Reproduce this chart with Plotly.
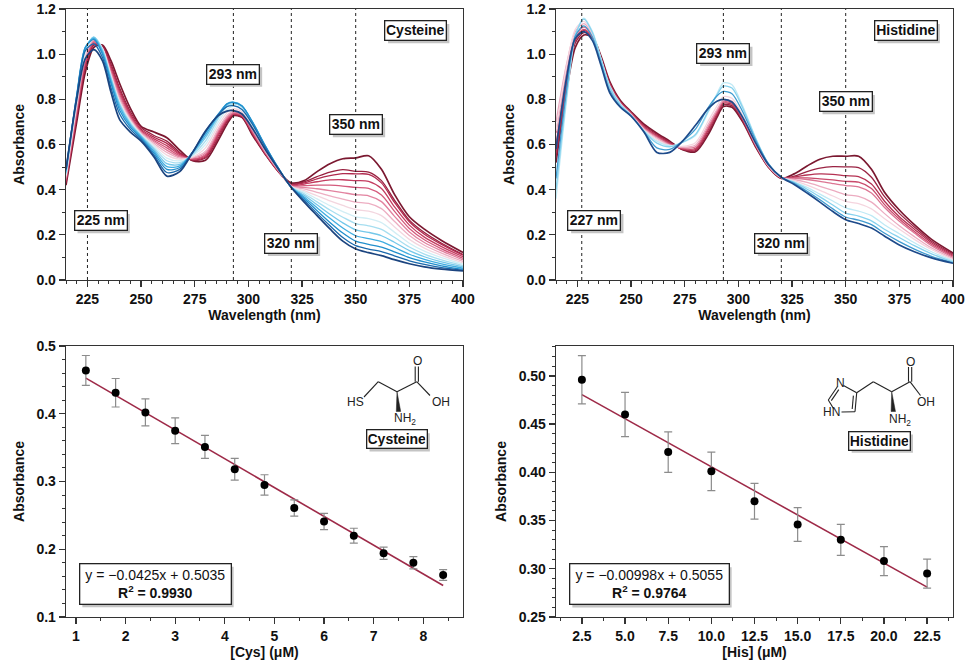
import plotly.graph_objects as go

FONT = "Liberation Sans, Arial, sans-serif"
OX, OY = 0, 0
FW, FH = 966, 668

# ---------------- data: UV-vis spectra ----------------
wavelength = [215, 220, 224, 228, 232, 236, 240, 245, 250, 256, 262, 268, 274, 280, 286, 290, 293, 297, 302, 308, 314,
              320, 326, 332, 338, 344, 350, 356, 362, 368, 375, 382, 390, 400]

cys_1 = [0.42, 0.70, 0.92, 1.03, 1.04, 0.97, 0.87, 0.76, 0.68, 0.655, 0.63, 0.575, 0.528, 0.53, 0.62, 0.69, 0.728, 0.72, 0.64, 0.555, 0.48, 0.43, 0.44, 0.48, 0.515, 0.537, 0.541, 0.55, 0.49, 0.38, 0.28, 0.225, 0.175, 0.122]
cys_2 = [0.43, 0.72, 0.94, 1.04, 1.035, 0.955, 0.85, 0.745, 0.675, 0.64, 0.615, 0.565, 0.53, 0.54, 0.63, 0.70, 0.73, 0.722, 0.645, 0.555, 0.48, 0.425, 0.435, 0.458, 0.478, 0.489, 0.481, 0.478, 0.44, 0.355, 0.265, 0.21, 0.163, 0.113]
cys_3 = [0.435, 0.73, 0.95, 1.045, 1.03, 0.945, 0.84, 0.735, 0.668, 0.632, 0.605, 0.56, 0.532, 0.545, 0.64, 0.705, 0.732, 0.725, 0.648, 0.558, 0.48, 0.422, 0.43, 0.448, 0.462, 0.471, 0.470, 0.468, 0.43, 0.345, 0.258, 0.203, 0.158, 0.110]
cys_4 = [0.44, 0.74, 0.96, 1.05, 1.025, 0.935, 0.83, 0.728, 0.662, 0.625, 0.595, 0.555, 0.535, 0.55, 0.648, 0.71, 0.735, 0.728, 0.65, 0.56, 0.482, 0.42, 0.425, 0.435, 0.443, 0.444, 0.440, 0.437, 0.405, 0.325, 0.243, 0.19, 0.148, 0.103]
cys_5 = [0.445, 0.75, 0.97, 1.055, 1.025, 0.925, 0.82, 0.722, 0.658, 0.618, 0.585, 0.55, 0.537, 0.556, 0.655, 0.715, 0.738, 0.73, 0.655, 0.562, 0.483, 0.418, 0.418, 0.42, 0.42, 0.416, 0.410, 0.406, 0.376, 0.305, 0.228, 0.178, 0.138, 0.096]
cys_6 = [0.45, 0.76, 0.98, 1.06, 1.025, 0.918, 0.81, 0.716, 0.654, 0.612, 0.575, 0.545, 0.54, 0.562, 0.662, 0.72, 0.742, 0.733, 0.66, 0.565, 0.485, 0.416, 0.41, 0.404, 0.396, 0.387, 0.378, 0.373, 0.347, 0.283, 0.213, 0.166, 0.129, 0.089]
cys_7 = [0.455, 0.77, 0.99, 1.065, 1.025, 0.91, 0.80, 0.71, 0.65, 0.605, 0.565, 0.54, 0.542, 0.57, 0.67, 0.728, 0.748, 0.738, 0.665, 0.568, 0.487, 0.415, 0.403, 0.388, 0.372, 0.358, 0.345, 0.339, 0.316, 0.26, 0.197, 0.154, 0.119, 0.082]
cys_8 = [0.46, 0.78, 1.0, 1.07, 1.025, 0.905, 0.79, 0.705, 0.646, 0.598, 0.553, 0.535, 0.545, 0.585, 0.685, 0.74, 0.758, 0.745, 0.672, 0.572, 0.488, 0.414, 0.396, 0.373, 0.35, 0.33, 0.312, 0.305, 0.285, 0.236, 0.18, 0.141, 0.109, 0.076]
cys_9 = [0.465, 0.79, 1.01, 1.075, 1.025, 0.90, 0.785, 0.70, 0.643, 0.592, 0.54, 0.528, 0.55, 0.6, 0.70, 0.755, 0.77, 0.755, 0.68, 0.578, 0.49, 0.413, 0.389, 0.359, 0.329, 0.303, 0.280, 0.272, 0.254, 0.212, 0.163, 0.128, 0.099, 0.07]
cys_10 = [0.47, 0.80, 1.02, 1.075, 1.02, 0.895, 0.78, 0.695, 0.64, 0.585, 0.528, 0.52, 0.555, 0.615, 0.715, 0.768, 0.78, 0.765, 0.69, 0.585, 0.492, 0.412, 0.382, 0.346, 0.31, 0.278, 0.250, 0.240, 0.224, 0.189, 0.146, 0.115, 0.089, 0.064]
cys_11 = [0.475, 0.81, 1.025, 1.075, 1.015, 0.89, 0.775, 0.69, 0.637, 0.578, 0.515, 0.512, 0.56, 0.63, 0.725, 0.775, 0.785, 0.77, 0.695, 0.59, 0.494, 0.411, 0.375, 0.333, 0.291, 0.253, 0.222, 0.211, 0.196, 0.167, 0.13, 0.103, 0.08, 0.058]
cys_12 = [0.48, 0.815, 1.03, 1.07, 1.01, 0.88, 0.765, 0.685, 0.633, 0.57, 0.502, 0.505, 0.565, 0.642, 0.73, 0.78, 0.788, 0.772, 0.698, 0.592, 0.495, 0.41, 0.368, 0.32, 0.273, 0.23, 0.196, 0.183, 0.17, 0.145, 0.114, 0.091, 0.071, 0.052]
cys_13 = [0.485, 0.82, 1.03, 1.065, 1.0, 0.87, 0.752, 0.677, 0.628, 0.562, 0.49, 0.498, 0.567, 0.652, 0.735, 0.78, 0.786, 0.77, 0.698, 0.592, 0.495, 0.41, 0.361, 0.307, 0.255, 0.208, 0.172, 0.158, 0.146, 0.125, 0.099, 0.08, 0.063, 0.047]
cys_14 = [0.49, 0.815, 1.015, 1.045, 0.985, 0.85, 0.735, 0.667, 0.622, 0.553, 0.476, 0.49, 0.566, 0.658, 0.733, 0.768, 0.772, 0.755, 0.688, 0.585, 0.493, 0.41, 0.353, 0.295, 0.24, 0.188, 0.152, 0.137, 0.126, 0.107, 0.085, 0.069, 0.055, 0.043]
cys_15 = [0.49, 0.80, 0.98, 1.02, 0.97, 0.83, 0.71, 0.655, 0.615, 0.545, 0.46, 0.48, 0.565, 0.66, 0.728, 0.748, 0.75, 0.735, 0.67, 0.575, 0.49, 0.41, 0.345, 0.285, 0.226, 0.172, 0.137, 0.121, 0.108, 0.09, 0.072, 0.058, 0.048, 0.04]

his_1 = [0.52, 0.84, 1.03, 1.085, 1.075, 0.99, 0.88, 0.795, 0.745, 0.69, 0.65, 0.615, 0.577, 0.568, 0.645, 0.72, 0.768, 0.765, 0.70, 0.59, 0.50, 0.45, 0.47, 0.505, 0.535, 0.548, 0.548, 0.548, 0.49, 0.39, 0.31, 0.245, 0.18, 0.12]
his_2 = [0.54, 0.86, 1.05, 1.095, 1.075, 0.985, 0.875, 0.79, 0.742, 0.685, 0.645, 0.61, 0.578, 0.573, 0.655, 0.728, 0.775, 0.772, 0.705, 0.592, 0.50, 0.45, 0.46, 0.48, 0.495, 0.502, 0.501, 0.498, 0.455, 0.37, 0.295, 0.235, 0.172, 0.115]
his_3 = [0.56, 0.88, 1.06, 1.105, 1.075, 0.98, 0.87, 0.787, 0.74, 0.68, 0.64, 0.607, 0.58, 0.578, 0.665, 0.735, 0.782, 0.778, 0.71, 0.595, 0.502, 0.452, 0.456, 0.465, 0.47, 0.468, 0.462, 0.458, 0.425, 0.35, 0.28, 0.225, 0.165, 0.11]
his_4 = [0.6, 0.9, 1.07, 1.11, 1.075, 0.975, 0.865, 0.785, 0.738, 0.676, 0.636, 0.603, 0.582, 0.583, 0.672, 0.742, 0.788, 0.783, 0.714, 0.598, 0.503, 0.452, 0.452, 0.452, 0.448, 0.443, 0.437, 0.433, 0.405, 0.335, 0.27, 0.215, 0.158, 0.105]
his_5 = [0.65, 0.93, 1.08, 1.12, 1.08, 0.975, 0.86, 0.782, 0.735, 0.672, 0.632, 0.6, 0.585, 0.59, 0.68, 0.748, 0.792, 0.787, 0.717, 0.6, 0.504, 0.453, 0.45, 0.445, 0.437, 0.427, 0.418, 0.412, 0.385, 0.322, 0.26, 0.208, 0.152, 0.1]
his_6 = [0.70, 0.96, 1.1, 1.135, 1.085, 0.975, 0.855, 0.78, 0.732, 0.668, 0.628, 0.597, 0.588, 0.598, 0.69, 0.755, 0.798, 0.792, 0.72, 0.602, 0.505, 0.453, 0.445, 0.432, 0.415, 0.397, 0.378, 0.37, 0.345, 0.295, 0.24, 0.192, 0.142, 0.095]
his_7 = [0.66, 0.95, 1.11, 1.145, 1.09, 0.975, 0.855, 0.778, 0.73, 0.664, 0.622, 0.595, 0.592, 0.608, 0.705, 0.77, 0.812, 0.805, 0.728, 0.606, 0.506, 0.454, 0.44, 0.42, 0.397, 0.372, 0.348, 0.338, 0.315, 0.272, 0.225, 0.18, 0.135, 0.09]
his_8 = [0.36, 0.80, 1.08, 1.16, 1.10, 0.98, 0.86, 0.78, 0.73, 0.662, 0.615, 0.595, 0.61, 0.64, 0.745, 0.825, 0.873, 0.865, 0.77, 0.63, 0.515, 0.455, 0.435, 0.41, 0.38, 0.35, 0.319, 0.305, 0.285, 0.245, 0.205, 0.165, 0.125, 0.085]
his_9 = [0.40, 0.82, 1.085, 1.155, 1.095, 0.975, 0.855, 0.775, 0.727, 0.658, 0.606, 0.59, 0.61, 0.645, 0.75, 0.82, 0.858, 0.85, 0.762, 0.627, 0.513, 0.455, 0.432, 0.402, 0.368, 0.332, 0.296, 0.283, 0.262, 0.225, 0.188, 0.152, 0.116, 0.08]
his_10 = [0.45, 0.85, 1.08, 1.125, 1.075, 0.96, 0.84, 0.768, 0.728, 0.657, 0.585, 0.578, 0.615, 0.668, 0.765, 0.815, 0.835, 0.825, 0.745, 0.62, 0.515, 0.455, 0.428, 0.393, 0.355, 0.315, 0.279, 0.265, 0.245, 0.208, 0.17, 0.137, 0.105, 0.076]
his_11 = [0.58, 0.90, 1.07, 1.10, 1.06, 0.95, 0.83, 0.765, 0.725, 0.655, 0.565, 0.565, 0.615, 0.685, 0.76, 0.792, 0.80, 0.788, 0.72, 0.607, 0.51, 0.455, 0.423, 0.385, 0.345, 0.303, 0.267, 0.25, 0.23, 0.195, 0.155, 0.125, 0.098, 0.074]

cys_colors = ["#7b1830", "#98203f", "#b02a4e", "#c43c60", "#d45a7c", "#e2829f", "#edaec2", "#f3d6df",
              "#d2eef5", "#a6def0", "#74c8ea", "#40ade0", "#218fcc", "#1a69ac", "#1b447f"]
his_colors = ["#7b1830", "#9a2343", "#b53253", "#c94a6b", "#dc7593", "#ecabc0", "#f5d5df",
              "#bfe9f5", "#86d2ee", "#3f9bd0", "#1d4a8a"]

cys_marked_nm = [225, 293, 320, 350]
his_marked_nm = [227, 293, 320, 350]

# ---------------- data: calibration ----------------
cys_conc = [1.2, 1.8, 2.4, 3.0, 3.6, 4.2, 4.8, 5.4, 6.0, 6.6, 7.2, 7.8, 8.4]
cys_abs = [0.464, 0.431, 0.402, 0.375, 0.351, 0.318, 0.295, 0.261, 0.241, 0.220, 0.194, 0.180, 0.162]
cys_err = [0.022, 0.021, 0.020, 0.019, 0.017, 0.016, 0.015, 0.012, 0.012, 0.011, 0.009, 0.009, 0.008]
cys_slope, cys_intercept, cys_r2 = -0.0425, 0.5035, "0.9930"

his_conc = [2.5, 5.0, 7.5, 10.0, 12.5, 15.0, 17.5, 20.0, 22.5]
his_abs = [0.496, 0.460, 0.421, 0.401, 0.370, 0.346, 0.330, 0.308, 0.295]
his_err = [0.025, 0.023, 0.021, 0.020, 0.0185, 0.0175, 0.016, 0.015, 0.015]
his_slope, his_intercept, his_r2 = -0.00998, 0.5055, "0.9764"

# ---------------- figure ----------------
fig = go.Figure()

cys_curves = [cys_1, cys_2, cys_3, cys_4, cys_5, cys_6, cys_7, cys_8, cys_9, cys_10, cys_11, cys_12, cys_13, cys_14, cys_15]
his_curves = [his_1, his_2, his_3, his_4, his_5, his_6, his_7, his_8, his_9, his_10, his_11]

for i, (ys, c) in enumerate(zip(cys_curves, cys_colors)):
    w = 1.7 if i in (0, len(cys_curves) - 1) else 1.3
    fig.add_trace(go.Scatter(x=wavelength, y=ys, mode="lines", line=dict(color=c, width=w, shape="spline", smoothing=0.8),
                             xaxis="x", yaxis="y", hoverinfo="skip"))
for i, (ys, c) in enumerate(zip(his_curves, his_colors)):
    w = 1.7 if i in (0, len(his_curves) - 1) else 1.3
    fig.add_trace(go.Scatter(x=wavelength, y=ys, mode="lines", line=dict(color=c, width=w, shape="spline", smoothing=0.8),
                             xaxis="x2", yaxis="y2", hoverinfo="skip"))

FIT = "#9e2a48"
fig.add_trace(go.Scatter(x=[cys_conc[0], cys_conc[-1]],
                         y=[cys_slope * cys_conc[0] + cys_intercept, cys_slope * cys_conc[-1] + cys_intercept],
                         mode="lines", line=dict(color=FIT, width=1.6), xaxis="x3", yaxis="y3"))
fig.add_trace(go.Scatter(x=cys_conc, y=cys_abs, mode="markers",
                         marker=dict(color="black", size=8),
                         error_y=dict(type="data", array=cys_err, color="#8c8c8c", thickness=1.2, width=4),
                         xaxis="x3", yaxis="y3"))
fig.add_trace(go.Scatter(x=[his_conc[0], his_conc[-1]],
                         y=[his_slope * his_conc[0] + his_intercept, his_slope * his_conc[-1] + his_intercept],
                         mode="lines", line=dict(color=FIT, width=1.6), xaxis="x4", yaxis="y4"))
fig.add_trace(go.Scatter(x=his_conc, y=his_abs, mode="markers",
                         marker=dict(color="black", size=8),
                         error_y=dict(type="data", array=his_err, color="#8c8c8c", thickness=1.2, width=4),
                         xaxis="x4", yaxis="y4"))

# ---------------- axes ----------------
AX = "#333333"
TF = dict(family=FONT, size=14, color="#111", weight="bold")
TT = dict(family=FONT, size=14, color="#111", weight="bold")


def axis(domain, rng, dtick, minor, tick0=None, fmt=None, title=None, standoff=4, anchor=None):
    d = dict(domain=domain, range=rng, dtick=dtick, showline=True, linecolor=AX, linewidth=1.3, mirror=True,
             ticks="outside", ticklen=6, tickwidth=1.3, tickcolor=AX, showgrid=False, zeroline=False,
             tickfont=TF, anchor=anchor, automargin=False, ticklabeloverflow="allow",
             minor=dict(ticks="outside", ticklen=3, tickwidth=1, tickcolor=AX, dtick=minor, showgrid=False))
    if tick0 is not None:
        d["tick0"] = tick0
        d["minor"]["tick0"] = tick0
    if fmt:
        d["tickformat"] = fmt
    if title:
        d["title"] = dict(text=title, font=TT, standoff=standoff)
    return d


def PX(px):
    return (px - OX) / FW


def PY(py):
    return 1 - (py - OY) / FH


def P(px, py):
    return PX(px), PY(py)


XL = [PX(66), PX(463)]
XR = [PX(556), PX(953)]
YT = [PY(280), PY(9)]
YB = [PY(617), PY(346)]

fig.update_layout(
    xaxis=axis(XL, [215, 400], 25, 5, tick0=225, title="Wavelength (nm)", standoff=3, anchor="y"),
    yaxis=axis(YT, [0, 1.2], 0.2, 0.1, tick0=0, fmt=".1f", title="Absorbance", standoff=8, anchor="x"),
    xaxis2=axis(XR, [215, 400], 25, 5, tick0=225, title="Wavelength (nm)", standoff=3, anchor="y2"),
    yaxis2=axis(YT, [0, 1.2], 0.2, 0.1, tick0=0, fmt=".1f", title="Absorbance", standoff=8, anchor="x2"),
    xaxis3=axis(XL, [0.8, 8.8], 1, 0.5, tick0=1, title="[Cys] (μM)", standoff=3, anchor="y3"),
    yaxis3=axis(YB, [0.1, 0.5], 0.1, 0.02, tick0=0.1, fmt=".1f", title="Absorbance", standoff=8, anchor="x3"),
    xaxis4=axis(XR, [1.0, 24.0], 2.5, 1.25, tick0=2.5, fmt=".1f", title="[His] (μM)", standoff=3, anchor="y4"),
    yaxis4=axis(YB, [0.25, 0.531], 0.05, 0.01, tick0=0.25, fmt=".2f", title="Absorbance", standoff=8, anchor="x4"),
)

# ---------------- reference lines ----------------
shapes = []
for nm in cys_marked_nm:
    shapes.append(dict(type="line", xref="x", yref="y domain", x0=nm, x1=nm, y0=0, y1=1,
                       line=dict(color="#222", width=1, dash="dot")))
for nm in his_marked_nm:
    shapes.append(dict(type="line", xref="x2", yref="y2 domain", x0=nm, x1=nm, y0=0, y1=1,
                       line=dict(color="#222", width=1, dash="dot")))

# ---------------- labels (boxed, with drop shadow) ----------------
annotations = []


def box_label(text, px, py, w, h, size=14, bold=True, pad=1):
    x, y = P(px, py)
    bw = 1.3
    tw, th = w + 2 * pad + bw, h + 2 * pad + bw
    sx0, sy0 = P(px - tw / 2 + 3, py - th / 2 + 3)
    sx1, sy1 = P(px + tw / 2 + 3, py + th / 2 + 3)
    shapes.append(dict(type="rect", xref="paper", yref="paper", x0=sx0, x1=sx1, y0=sy0, y1=sy1,
                       fillcolor="#c4c4c4", line=dict(width=0), layer="above"))
    annotations.append(dict(text=text, xref="paper", yref="paper", x=x, y=y, xanchor="center", yanchor="middle",
                            showarrow=False, borderpad=pad, borderwidth=bw, align="center", width=w, height=h,
                            font=dict(family=FONT, size=size, color="#111", weight="bold" if bold else "normal"),
                            bgcolor="white", bordercolor="#222"))


box_label("Cysteine", 415.7, 30.7, 58, 16)
box_label("293 nm", 233, 74, 49, 16)
box_label("350 nm", 356, 124.7, 49, 16)
box_label("225 nm", 100.7, 220.7, 49, 16)
box_label("320 nm", 291, 243.3, 49, 16)
box_label("Histidine", 905.7, 30.7, 59, 16)
box_label("293 nm", 723.3, 53.3, 49, 16)
box_label("350 nm", 845.7, 101.7, 49, 16)
box_label("227 nm", 594.3, 220.7, 49, 16)
box_label("320 nm", 781, 243.3, 49, 16)
box_label("Cysteine", 396.7, 439.3, 57, 15)
box_label("Histidine", 879.3, 440.7, 58, 15)
box_label(f"y = \u2212{abs(cys_slope):.4f}x + {cys_intercept:.4f}<br><b>R<sup>2</sup> = {cys_r2}</b>", 155, 584,
          146, 35, bold=False, pad=2)
box_label(f"y = \u2212{abs(his_slope):.5f}x + {his_intercept:.4f}<br><b>R<sup>2</sup> = {his_r2}</b>", 649, 584.3,
          154, 35, bold=False, pad=2)

# ---------------- chemical structures (drawing) ----------------
BOND = "#222"


def bond(a, b, w=1.1):
    (x0, y0), (x1, y1) = P(*a), P(*b)
    shapes.append(dict(type="line", xref="paper", yref="paper", x0=x0, y0=y0, x1=x1, y1=y1,
                       line=dict(color=BOND, width=w)))


def wedge(a, b, half=2.2):
    pts = [P(*a), P(b[0] - half, b[1]), P(b[0] + half, b[1])]
    path = "M {} {} L {} {} L {} {} Z".format(pts[0][0], pts[0][1], pts[1][0], pts[1][1], pts[2][0], pts[2][1])
    shapes.append(dict(type="path", xref="paper", yref="paper", path=path, fillcolor=BOND,
                       line=dict(color=BOND, width=0.5)))


def atom(text, px, py, size=12):
    x, y = P(px, py)
    annotations.append(dict(text=text, xref="paper", yref="paper", x=x, y=y, xanchor="center", yanchor="middle",
                            showarrow=False, font=dict(family=FONT, size=size, color="#222")))


# Cysteine
bond((364, 397), (378.3, 381.7))
bond((378.3, 381.7), (397, 391.7))
bond((397, 391.7), (416.7, 381.7))
bond((415.2, 381.7), (415.2, 366.5))
bond((418.4, 381.7), (418.4, 366.5))
bond((416.7, 381.7), (430, 395.5))
wedge((397, 391.7), (398.5, 411.5))
atom("HS", 355, 402.3)
atom("O", 417, 360.5)
atom("OH", 440.5, 402.3)
atom("NH<sub>2</sub>", 404.5, 419)

# Histidine
bond((843.5, 385.5), (856.7, 392.7))
bond((856.7, 392.7), (855, 411.7))
bond((853.4, 395.6), (852.2, 409))
bond((855, 411.7), (841.5, 412))
bond((833.5, 408.5), (828.3, 400))
bond((828.3, 400), (837.5, 386.5))
bond((831.3, 400.6), (838.8, 389.6))
bond((856.7, 392.7), (873.3, 381.7))
bond((873.3, 381.7), (891.7, 391.7))
bond((891.7, 391.7), (910, 381.7))
bond((908.5, 381.7), (908.5, 367))
bond((911.7, 381.7), (911.7, 367))
bond((910, 381.7), (920.5, 395.5))
wedge((891.7, 391.7), (893.3, 411.5))
atom("N", 840.7, 382.5)
atom("HN", 831.5, 412)
atom("O", 910.3, 361.5)
atom("OH", 925.5, 402)
atom("NH<sub>2</sub>", 899.5, 419.5)

fig.update_layout(width=FW, height=FH, margin=dict(l=0, r=0, t=0, b=0), paper_bgcolor="white",
                  plot_bgcolor="white", showlegend=False, shapes=shapes, annotations=annotations,
                  font=dict(family=FONT), hovermode=False)

# remove the browser's default 8px page margin so the 966x668 figure fills the window exactly
fig.write_html("out.html", config={"displayModeBar": False, "staticPlot": True},
               post_script="document.body.style.margin='0px';")
